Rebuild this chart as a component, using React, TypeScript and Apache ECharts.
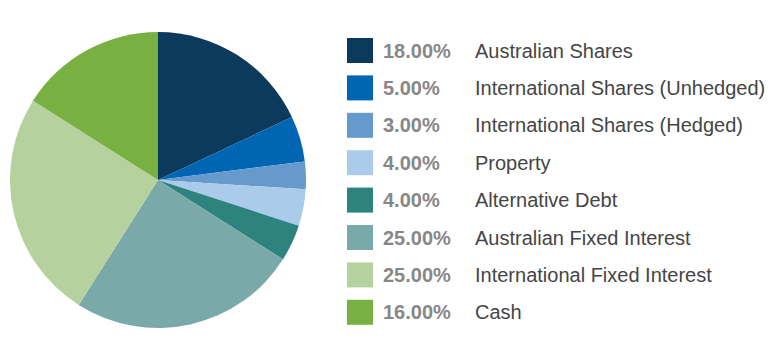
import React, { useEffect, useRef } from "react";
import * as echarts from "echarts";

const categories = [
  "Australian Shares",
  "International Shares (Unhedged)",
  "International Shares (Hedged)",
  "Property",
  "Alternative Debt",
  "Australian Fixed Interest",
  "International Fixed Interest",
  "Cash",
];
const values = [18, 5, 3, 4, 4, 25, 25, 16];
const colors = [
  "#0c3a5c",
  "#0066b3",
  "#6699cc",
  "#abcbeb",
  "#2d837d",
  "#7aa9aa",
  "#b5d19d",
  "#79b042",
];

export default function App() {
  const ref = useRef<HTMLDivElement>(null);
  useEffect(() => {
    if (!ref.current) return;
    const chart = echarts.init(ref.current, undefined, { renderer: "svg" });
    const pct: Record<string, string> = {};
    categories.forEach((c, i) => (pct[c] = values[i].toFixed(2) + "%"));
    chart.setOption({
      animation: false,
      color: colors,
      legend: {
        orient: "vertical",
        left: 347,
        top: 38,
        padding: 0,
        itemWidth: 26,
        itemHeight: 25,
        itemGap: 12.4,
        icon: "rect",
        selectedMode: false,
        formatter: (name: string) => `{p|${pct[name]}}{n|${name}}`,
        textStyle: {
          fontFamily: "Liberation Sans, Arial, sans-serif",
          rich: {
            p: {
              width: 92,
              padding: [0, 0, 0, 5],
              fontSize: 20,
              fontWeight: "bold",
              color: "#878787",
              lineHeight: 25,
              fontFamily: "Liberation Sans, Arial, sans-serif",
            },
            n: {
              fontSize: 20,
              color: "#454545",
              lineHeight: 25,
              fontFamily: "Liberation Sans, Arial, sans-serif",
            },
          },
        },
        data: categories,
      },
      series: [
        {
          type: "pie",
          center: [158, 180],
          radius: [0, 148],
          startAngle: 90,
          clockwise: true,
          label: { show: false },
          labelLine: { show: false },
          emphasis: { disabled: true },
          itemStyle: { borderWidth: 0 },
          data: categories.map((c, i) => ({ name: c, value: values[i] })),
        },
      ],
    });
    return () => chart.dispose();
  }, []);
  return (
    <div
      ref={ref}
      style={{ position: "fixed", left: 0, top: 0, width: 783, height: 357, background: "#fff" }}
    />
  );
}
